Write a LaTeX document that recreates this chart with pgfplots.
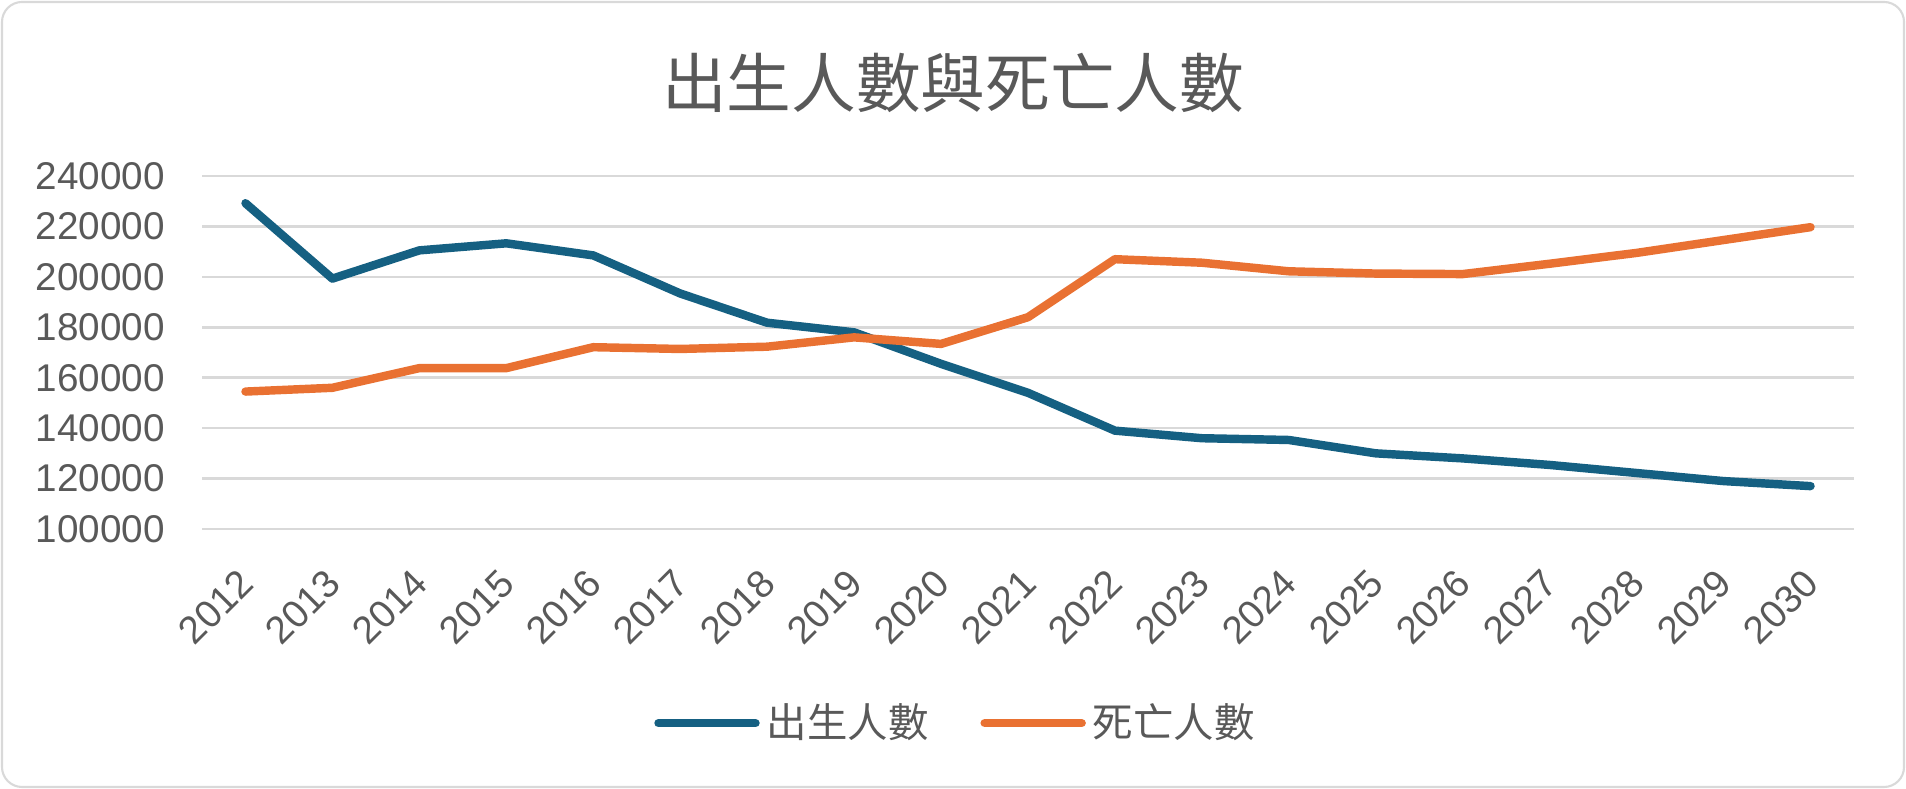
\documentclass[border=0pt]{standalone}
\usepackage{pgfplots}
\pgfplotsset{compat=1.18}
\usepackage{fontspec}
\setmainfont{Liberation Sans}
\newfontfamily\cjk{Noto Sans CJK TC}
\definecolor{txt}{HTML}{595959}
\definecolor{gridc}{HTML}{D9D9D9}
\definecolor{cblue}{HTML}{156082}
\definecolor{corange}{HTML}{E97132}
\begin{document}
\begin{tikzpicture}
\path[use as bounding box] (0,0) rectangle (190.6mm,78.9mm);
\draw[gridc, line width=0.6pt, rounded corners=2mm] (0.2mm,0.2mm) rectangle (190.4mm,78.7mm);
\node[text=txt, font=\cjk\fontsize{18.4}{22}\selectfont] at (95.3mm,70.6mm) {出生人數與死亡人數};
\begin{axis}[
  at={(20.2mm,26.0mm)}, anchor=south west,
  width=165.2mm, height=35.3mm, scale only axis,
  xmin=-0.5, xmax=18.5, ymin=100000, ymax=240000,
  xtick={0,...,18},
  xticklabels={2012,2013,2014,2015,2016,2017,2018,2019,2020,2021,2022,2023,2024,2025,2026,2027,2028,2029,2030},
  ytick={100000,120000,...,240000},
  scaled y ticks=false,
  yticklabel style={/pgf/number format/.cd, fixed, precision=0, 1000 sep={}, assume math mode=true, /tikz/.cd, text=txt, font=\fontsize{11}{13}\selectfont, xshift=-2.5mm},
  xticklabel style={rotate=45, anchor=north east, text=txt, font=\fontsize{11}{13}\selectfont, yshift=-0.8mm, xshift=-2.05mm},
  axis line style={draw=none},
  major tick length=0pt,
  ymajorgrids, grid style={gridc, line width=0.75pt},
  legend style={at={(0.4576,-0.55)}, anchor=center, draw=none, legend columns=2,
    font=\cjk\fontsize{11.5}{14}\selectfont, text=txt,
    /tikz/every even column/.append style={column sep=4.5mm}},
  legend image code/.code={\draw[#1, line cap=round] (0,0) -- (9.7mm,0);},
  legend cell align=left,
]
\addplot[cblue, line width=2.4pt, line cap=round, line join=round] coordinates {
(0,229200) (1,199300) (2,210500) (3,213300) (4,208500) (5,193400) (6,181800) (7,178000) (8,165500) (9,154000) (10,139000) (11,136000) (12,135300) (13,130000) (14,128000) (15,125400) (16,122200) (17,119000) (18,117000)};
\addlegendentry{出生人數}
\addplot[corange, line width=2.4pt, line cap=round, line join=round] coordinates {
(0,154500) (1,156000) (2,163800) (3,163800) (4,172100) (5,171400) (6,172300) (7,176000) (8,173400) (9,184000) (10,207000) (11,205600) (12,202200) (13,201300) (14,201100) (15,205200) (16,209500) (17,214600) (18,219700)};
\addlegendentry{死亡人數}
\end{axis}
\end{tikzpicture}
\end{document}
